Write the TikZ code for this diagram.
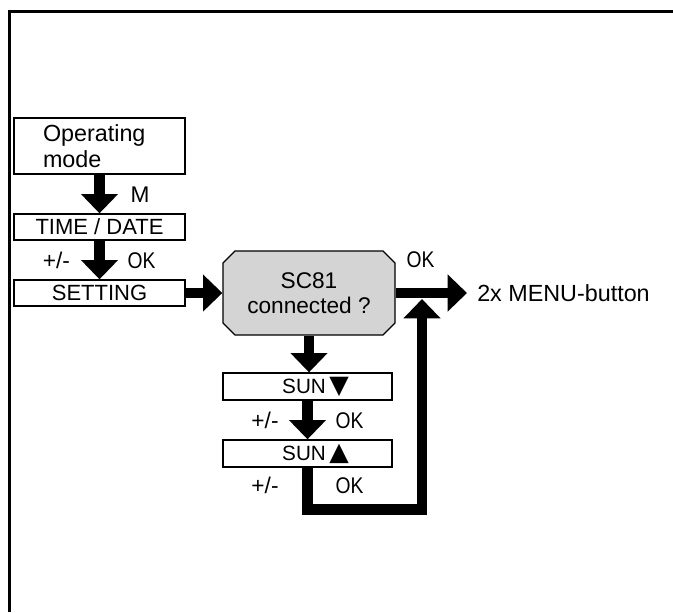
\documentclass[tikz,border=0pt]{standalone}
\usepackage{xcolor}
\usepackage{fontspec}
\setmainfont{Liberation Sans}
\newfontfamily\narrowfont[FakeStretch=0.85]{Liberation Sans}
\newfontfamily\trifont{DejaVu Sans}
\usepackage{tikz}
\usetikzlibrary{arrows.meta,shapes.misc}

\definecolor{decgray}{RGB}{212,212,212}

\tikzset{
  stepbox/.style={draw, line width=1pt, inner sep=0pt, minimum width=128.25pt, minimum height=19.5pt, font=\fontsize{16.5}{19}\selectfont},
  sunbox/.style={stepbox, minimum width=126.75pt, minimum height=20.25pt, font=\fontsize{15.5}{17}\selectfont},
  bigarrow/.style={line width=8pt, -{Triangle[length=14.5pt,width=27pt]}},
  keylabel/.style={anchor=base, inner sep=0pt, font=\fontsize{17}{19}\selectfont},
  oklabel/.style={keylabel, font=\fontsize{17}{19}\narrowfont},
}

\begin{document}
\begin{tikzpicture}[x=0.75pt,y=0.75pt,yscale=-1,xscale=1]
\useasboundingbox (0,0) rectangle (673,612);

%Shape: Frame
\draw [line width=2.25pt] (9.5,612) -- (9.5,11.5) -- (673,11.5) ;

%Shape: Rectangle [id:opmode]
\node [stepbox, minimum height=42pt, align=left, text width=84.75pt, inner xsep=21.75pt, font=\fontsize{17.5}{19}\selectfont] (opmode) at (99.5,146) {Operating\\mode};
%Shape: Rectangle [id:timedate]
\node [stepbox] (timedate) at (99.5,227) {TIME / DATE};
%Shape: Rectangle [id:setting]
\node [stepbox] (setting) at (99.5,293) {SETTING};
%Shape: Chamfered Rectangle [id:sc81]
\node [draw, line width=1pt, fill=decgray, chamfered rectangle, chamfered rectangle xsep=4.5pt, chamfered rectangle ysep=4.5pt, inner sep=0pt, minimum width=129pt, minimum height=63pt, align=center, font=\fontsize{17}{19}\selectfont] (sc81) at (309,293) {SC81\\connected ?};
%Shape: Rectangle [id:sundown]
\node [sunbox] (sundown) at (307.5,386.5) {\hspace*{12pt}SUN\,{\trifont\fontsize{19}{19}\selectfont ▼}};
%Shape: Rectangle [id:sunup]
\node [sunbox] (sunup) at (307.5,453.5) {\hspace*{12pt}SUN\,{\trifont\fontsize{19}{19}\selectfont ▲}};

% Text Node
\node [anchor=west, inner sep=0pt, inner xsep=7.5pt, font=\fontsize{17.5}{20}\selectfont] (menu) at (467,293) {2x MENU-button};

%Straight Lines
\draw [bigarrow] (opmode.south) -- (timedate.north) ;
\draw [bigarrow] (timedate.south) -- (setting.north) ;
\draw [bigarrow] (setting.east) -- (sc81.west) ;
\draw [bigarrow] (sc81.east) -- (menu.west) ;
\draw [bigarrow] (sc81.south) -- (sc81.south |- sundown.north) ;
\draw [bigarrow] (sundown.south) -- (sunup.north) ;
%Straight Lines: loop back to OK branch
\coordinate (loopend) at (422,299);
\draw [bigarrow, line join=miter] (sunup.south) -- ++(0,42) -| (loopend) ;

% Text Node
\node [keylabel] (lblm) at (140,202) {M};
% Text Node
\node [keylabel] (lblpm1) at (56.5,268) {+/-};
% Text Node
\node [oklabel] (lblok1) at (141.5,268) {OK};
% Text Node
\node [oklabel] (lblok2) at (420.5,267) {OK};
% Text Node
\node [keylabel] (lblpm2) at (265,428) {+/-};
% Text Node
\node [oklabel] (lblok3) at (349.5,428) {OK};
% Text Node
\node [keylabel] (lblpm3) at (265,493) {+/-};
% Text Node
\node [oklabel] (lblok4) at (349.5,493) {OK};

\end{tikzpicture}
\end{document}
